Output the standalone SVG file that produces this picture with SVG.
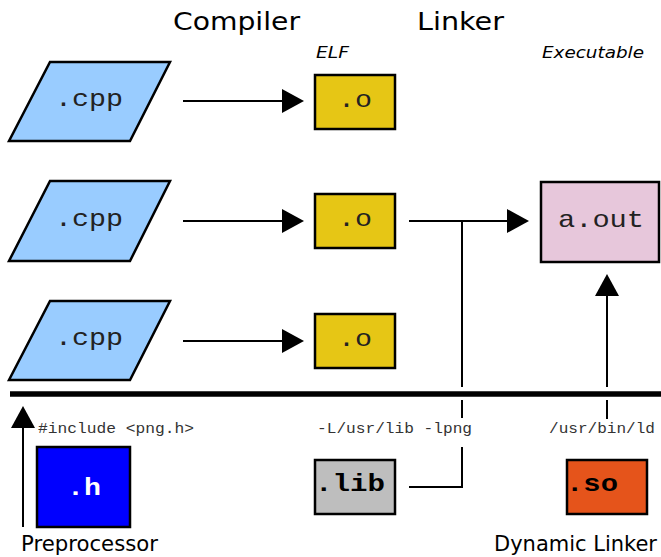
<svg xmlns="http://www.w3.org/2000/svg" width="661" height="557" viewBox="0 0 661 557">
<style>
.sans{font-family:"DejaVu Sans",sans-serif;fill:#000}
.ital{font-family:"DejaVu Sans",sans-serif;font-style:italic;font-size:16px;fill:#000}
.mono{font-family:"Liberation Mono","Courier New",monospace;font-size:24px;fill:#222}
.bold{font-family:"Liberation Mono","Courier New",monospace;font-size:24px;font-weight:bold;fill:#000}
.small{font-family:"Liberation Mono","Courier New",monospace;font-size:14px;fill:#333}
.box{stroke:#000;stroke-width:2.5}
.ln{stroke:#000;stroke-width:2;fill:none}
</style>
<defs>
<marker id="ah" markerUnits="userSpaceOnUse" markerWidth="22" markerHeight="24" viewBox="0 0 22 24" refX="0" refY="12" orient="auto">
<path d="M0,0 L22,12 L0,24 z" fill="#000"/>
</marker>
</defs>
<rect width="661" height="557" fill="#fff"/>

<g id="titles">
<text class="sans" x="173" y="30" font-size="25" textLength="127" lengthAdjust="spacingAndGlyphs">Compiler</text>
<text class="sans" x="417" y="30" font-size="25" textLength="87" lengthAdjust="spacingAndGlyphs">Linker</text>
<text class="ital" x="316" y="58" textLength="33" lengthAdjust="spacingAndGlyphs">ELF</text>
<text class="ital" x="542" y="58" textLength="102" lengthAdjust="spacingAndGlyphs">Executable</text>
<text class="sans" x="21" y="551" font-size="21.5" textLength="137" lengthAdjust="spacingAndGlyphs">Preprocessor</text>
<text class="sans" x="494" y="551" font-size="21.5" textLength="163" lengthAdjust="spacingAndGlyphs">Dynamic Linker</text>
</g>

<g id="cpp1">
<polygon class="box" points="50,62 170,62 130,141 9,141" fill="#99ccff"/>
<text class="mono" x="89" y="106" text-anchor="middle" textLength="68" lengthAdjust="spacingAndGlyphs">.cpp</text>
</g>
<g id="cpp2">
<polygon class="box" points="50,181 170,181 130,261 9,261" fill="#99ccff"/>
<text class="mono" x="89" y="226" text-anchor="middle" textLength="68" lengthAdjust="spacingAndGlyphs">.cpp</text>
</g>
<g id="cpp3">
<polygon class="box" points="50,301 170,301 130,380 9,380" fill="#99ccff"/>
<text class="mono" x="89" y="345" text-anchor="middle" textLength="68" lengthAdjust="spacingAndGlyphs">.cpp</text>
</g>

<g id="o1">
<rect class="box" x="315" y="75" width="80" height="54" fill="#e6c615"/>
<text class="mono" x="355" y="107" text-anchor="middle" textLength="34" lengthAdjust="spacingAndGlyphs">.o</text>
</g>
<g id="o2">
<rect class="box" x="315" y="194" width="80" height="54" fill="#e6c615"/>
<text class="mono" x="355" y="226" text-anchor="middle" textLength="34" lengthAdjust="spacingAndGlyphs">.o</text>
</g>
<g id="o3">
<rect class="box" x="315" y="314" width="80" height="54" fill="#e6c615"/>
<text class="mono" x="355" y="346" text-anchor="middle" textLength="34" lengthAdjust="spacingAndGlyphs">.o</text>
</g>

<g id="aout">
<rect class="box" x="541" y="182" width="118" height="80" fill="#e7c7db"/>
<text class="mono" x="601" y="227" text-anchor="middle" textLength="86" lengthAdjust="spacingAndGlyphs">a.out</text>
</g>

<g id="h">
<rect class="box" x="37" y="447" width="93" height="80" fill="#0000ff"/>
<text class="bold" x="84" y="495" text-anchor="middle" style="fill:#fff" textLength="34" lengthAdjust="spacingAndGlyphs">.h</text>
</g>
<g id="lib">
<rect class="box" x="315" y="460" width="80" height="54" fill="#bebebe"/>
<text class="bold" x="315" y="491" textLength="70" lengthAdjust="spacingAndGlyphs">.lib</text>
</g>
<g id="so">
<rect class="box" x="567" y="460" width="80" height="54" fill="#e5541b"/>
<text class="bold" x="566" y="491" textLength="52" lengthAdjust="spacingAndGlyphs">.so</text>
</g>

<g id="labels">
<text class="small" x="38" y="433" textLength="156" lengthAdjust="spacingAndGlyphs">#include &lt;png.h&gt;</text>
<text class="small" x="317" y="433" textLength="155" lengthAdjust="spacingAndGlyphs">-L/usr/lib -lpng</text>
<text class="small" x="549" y="433" textLength="106" lengthAdjust="spacingAndGlyphs">/usr/bin/ld</text>
</g>

<g id="connectors">
<line class="ln" x1="183" y1="101" x2="282" y2="101" marker-end="url(#ah)"/>
<line class="ln" x1="183" y1="221" x2="282" y2="221" marker-end="url(#ah)"/>
<line class="ln" x1="183" y1="341" x2="282" y2="341" marker-end="url(#ah)"/>
<line class="ln" x1="409" y1="221" x2="507" y2="221" marker-end="url(#ah)"/>
<line class="ln" x1="462" y1="221" x2="462" y2="387"/>
<line class="ln" x1="462" y1="400" x2="462" y2="418"/>
<polyline class="ln" points="409,487 462,487 462,447"/>
<line class="ln" x1="607" y1="387" x2="607" y2="296" marker-end="url(#ah)"/>
<line class="ln" x1="607" y1="400" x2="607" y2="419"/>
<line class="ln" x1="23" y1="527" x2="23" y2="428" marker-end="url(#ah)"/>
<line x1="10" y1="394" x2="661" y2="394" stroke="#000" stroke-width="5.5"/>
</g>
</svg>
